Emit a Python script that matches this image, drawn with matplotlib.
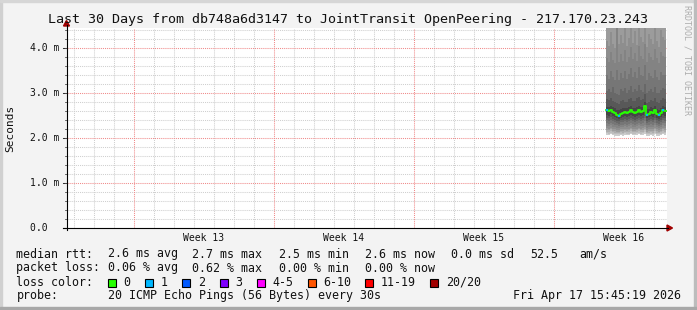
import numpy as np
import pandas as pd
import matplotlib
matplotlib.use("Agg")
import matplotlib.pyplot as plt
import matplotlib.dates as mdates
from matplotlib.patches import Polygon, Rectangle
from matplotlib.transforms import blended_transform_factory

# ---------------- data ----------------
title = "Last 30 Days from db748a6d3147 to JointTransit OpenPeering - 217.170.23.243"
end_time = pd.Timestamp("2026-04-17 15:45:19")
start_time = end_time - pd.Timedelta(days=30)
data_start = pd.Timestamp("2026-04-14 14:30")
n_steps = 30
step_minutes = 144

y_ticks = [0, 1, 2, 3, 4]
y_tick_labels = ["0.0  ", "1.0 m", "2.0 m", "3.0 m", "4.0 m"]

# median rtt (ms) and loss count per step
median = [2.62, 2.60, 2.62, 2.58, 2.56, 2.52, 2.50, 2.54, 2.55, 2.57, 2.56, 2.58, 2.62, 2.57, 2.56,
          2.58, 2.62, 2.58, 2.60, 2.72, 2.52, 2.54, 2.58, 2.55, 2.62, 2.54, 2.51, 2.56, 2.62, 2.60]
loss = [1, 0, 0, 0, 0, 0, 1, 0, 0, 0, 0, 0, 0, 0, 0,
        0, 0, 0, 0, 0, 1, 0, 0, 0, 0, 0, 1, 0, 1, 0]

# smoke bands (ms), outermost (0) to innermost (9)
hi0 = [7.2, 7.0, 7.4, 7.1, 6.9, 7.8, 7.0, 7.3, 7.1, 7.5, 7.0, 7.2, 7.6, 7.1, 7.4,
       7.0, 7.5, 7.2, 7.1, 7.7, 7.0, 7.3, 7.2, 7.0, 7.5, 7.1, 6.9, 7.4, 7.2, 7.1]
hi1 = [6.2, 6.0, 6.4, 6.1, 5.9, 6.8, 6.0, 6.3, 6.1, 6.5, 6.0, 6.2, 6.6, 6.1, 6.4,
       6.0, 6.5, 6.2, 6.1, 6.7, 6.0, 6.3, 6.2, 6.0, 6.5, 6.1, 5.9, 6.4, 6.2, 6.1]
hi2 = [5.4, 5.2, 5.6, 5.3, 5.1, 6.0, 5.2, 5.5, 5.3, 5.7, 5.2, 5.4, 5.8, 5.3, 5.6,
       5.2, 5.7, 5.4, 5.3, 5.9, 5.2, 5.5, 5.4, 5.2, 5.7, 5.3, 5.1, 5.6, 5.4, 5.3]
hi3 = [4.80, 4.70, 4.95, 4.75, 4.66, 5.40, 4.72, 4.90, 4.76, 5.05, 4.68, 4.85, 5.10, 4.74, 4.98,
       4.70, 5.05, 4.86, 4.78, 5.20, 4.67, 4.92, 4.83, 4.72, 5.02, 4.80, 4.66, 4.96, 4.86, 4.82]
hi4 = [4.15, 4.05, 4.35, 4.10, 4.00, 4.80, 4.08, 4.30, 4.12, 4.50, 4.04, 4.22, 4.55, 4.11, 4.38,
       4.06, 4.50, 4.25, 4.14, 4.60, 4.03, 4.32, 4.20, 4.09, 4.48, 4.16, 4.02, 4.40, 4.24, 4.18]
hi5 = [3.78, 3.70, 3.92, 3.74, 3.66, 4.60, 3.70, 3.86, 3.72, 3.95, 3.68, 3.80, 4.02, 3.75, 3.90,
       3.71, 4.05, 3.82, 3.76, 4.10, 3.69, 3.88, 3.79, 3.73, 3.98, 3.77, 3.67, 3.91, 3.83, 3.80]
hi6 = [3.40, 3.32, 3.48, 3.36, 3.30, 3.52, 3.28, 3.44, 3.34, 3.50, 3.31, 3.42, 3.55, 3.35, 3.46,
       3.33, 3.58, 3.40, 3.37, 3.62, 3.30, 3.45, 3.38, 3.34, 3.52, 3.36, 3.29, 3.47, 3.41, 3.39]
hi7 = [3.05, 3.10, 3.02, 3.14, 3.00, 2.98, 2.96, 3.08, 3.04, 3.12, 3.00, 3.06, 3.15, 3.02, 3.08,
       3.04, 3.18, 3.06, 3.03, 3.20, 3.00, 3.05, 3.10, 3.02, 3.14, 3.01, 2.99, 3.06, 3.12, 3.08]
hi8 = [2.86, 2.84, 2.90, 2.82, 2.80, 2.78, 2.76, 2.82, 2.84, 2.81, 2.80, 2.86, 2.90, 2.82, 2.83,
       2.88, 2.92, 2.84, 2.86, 2.98, 2.78, 2.80, 2.85, 2.82, 2.90, 2.80, 2.78, 2.84, 2.88, 2.86]
hi9 = [2.70, 2.69, 2.72, 2.68, 2.66, 2.63, 2.62, 2.65, 2.66, 2.67, 2.66, 2.68, 2.71, 2.67, 2.66,
       2.69, 2.72, 2.68, 2.70, 2.80, 2.64, 2.65, 2.68, 2.66, 2.72, 2.65, 2.63, 2.67, 2.71, 2.70]

lo0 = [2.07, 2.06, 2.08, 2.06, 2.05, 2.04, 2.04, 2.06, 2.05, 2.07, 2.06, 2.06, 2.08, 2.06, 2.06,
       2.07, 2.08, 2.06, 2.07, 2.10, 2.04, 2.05, 2.06, 2.05, 2.08, 2.05, 2.04, 2.06, 2.08, 2.07]
lo1 = [2.11, 2.10, 2.12, 2.10, 2.09, 2.08, 2.08, 2.10, 2.09, 2.11, 2.10, 2.10, 2.12, 2.10, 2.10,
       2.11, 2.12, 2.10, 2.11, 2.14, 2.08, 2.09, 2.10, 2.09, 2.12, 2.09, 2.08, 2.10, 2.12, 2.11]
lo2 = [2.14, 2.13, 2.15, 2.13, 2.12, 2.11, 2.11, 2.13, 2.12, 2.14, 2.13, 2.13, 2.15, 2.13, 2.13,
       2.14, 2.15, 2.13, 2.14, 2.17, 2.11, 2.12, 2.13, 2.12, 2.15, 2.12, 2.11, 2.13, 2.15, 2.14]
lo3 = [2.18, 2.17, 2.19, 2.16, 2.15, 2.14, 2.14, 2.16, 2.16, 2.17, 2.16, 2.17, 2.19, 2.16, 2.16,
       2.17, 2.19, 2.17, 2.18, 2.21, 2.14, 2.15, 2.16, 2.15, 2.19, 2.15, 2.14, 2.16, 2.19, 2.18]
lo4 = [2.22, 2.21, 2.23, 2.20, 2.19, 2.18, 2.18, 2.20, 2.19, 2.21, 2.20, 2.21, 2.23, 2.20, 2.20,
       2.21, 2.23, 2.21, 2.22, 2.25, 2.18, 2.19, 2.20, 2.19, 2.23, 2.19, 2.18, 2.20, 2.23, 2.22]
lo5 = [2.27, 2.26, 2.28, 2.25, 2.24, 2.23, 2.22, 2.25, 2.24, 2.26, 2.25, 2.26, 2.28, 2.25, 2.25,
       2.26, 2.28, 2.26, 2.27, 2.30, 2.23, 2.24, 2.25, 2.24, 2.28, 2.24, 2.22, 2.25, 2.28, 2.27]
lo6 = [2.33, 2.32, 2.34, 2.31, 2.30, 2.28, 2.27, 2.30, 2.30, 2.31, 2.30, 2.32, 2.34, 2.31, 2.30,
       2.32, 2.34, 2.32, 2.33, 2.37, 2.28, 2.29, 2.31, 2.29, 2.34, 2.29, 2.27, 2.30, 2.34, 2.33]
lo7 = [2.39, 2.38, 2.40, 2.37, 2.35, 2.33, 2.32, 2.35, 2.35, 2.37, 2.36, 2.38, 2.40, 2.37, 2.36,
       2.38, 2.40, 2.38, 2.39, 2.44, 2.33, 2.35, 2.37, 2.35, 2.40, 2.34, 2.32, 2.36, 2.40, 2.38]
lo8 = [2.45, 2.44, 2.46, 2.42, 2.40, 2.38, 2.37, 2.40, 2.40, 2.42, 2.41, 2.43, 2.45, 2.42, 2.41,
       2.43, 2.45, 2.43, 2.44, 2.50, 2.38, 2.40, 2.42, 2.40, 2.45, 2.39, 2.37, 2.41, 2.45, 2.44]
lo9 = [2.52, 2.50, 2.53, 2.49, 2.47, 2.44, 2.42, 2.45, 2.46, 2.48, 2.47, 2.49, 2.52, 2.48, 2.47,
       2.49, 2.52, 2.49, 2.51, 2.60, 2.44, 2.46, 2.49, 2.46, 2.52, 2.45, 2.43, 2.47, 2.52, 2.50]

band_hi = [hi0, hi1, hi2, hi3, hi4, hi5, hi6, hi7, hi8, hi9]
band_lo = [lo0, lo1, lo2, lo3, lo4, lo5, lo6, lo7, lo8, lo9]
band_colors = ["#cccccc", "#bdbdbd", "#adadad", "#9c9c9c", "#8e8e8e",
               "#838383", "#767676", "#686868", "#585858", "#464646"]

loss_labels = ["0", "1", "2", "3", "4-5", "6-10", "11-19", "20/20"]
loss_colors = ["#26ff00", "#00b8ff", "#0059ff", "#7e00ff", "#ff00ff", "#ff5500", "#ff0000", "#a10000"]

stats_rtt = ["2.6 ms avg", "2.7 ms max", "2.5 ms min", "2.6 ms now", "0.0 ms sd", "52.5", "am/s"]
stats_loss = ["0.06 % avg", "0.62 % max", "0.00 % min", "0.00 % now"]
probe_text = "20 ICMP Echo Pings (56 Bytes) every 30s"
date_text = "Fri Apr 17 15:45:19 2026"

# ---------------- figure ----------------
W, H = 697, 310
MONO = "DejaVu Sans Mono"
fig = plt.figure(figsize=(W / 100, H / 100), dpi=100, facecolor="#f3f3f3")


def fx(x):
    return x / W


def fy(y):
    return 1 - y / H


# frame shading
fig.patches.append(Rectangle((0, 0), fx(2), 1, transform=fig.transFigure, color="#d0d0d0", zorder=0))
fig.patches.append(Rectangle((0, fy(2)), 1, 2 / H, transform=fig.transFigure, color="#d6d6d6", zorder=0))
fig.patches.append(Rectangle((fx(694), 0), fx(3), 1, transform=fig.transFigure, color="#bcbcbc", zorder=0))
fig.patches.append(Rectangle((0, 0), 1, 3 / H, transform=fig.transFigure, color="#a8a8a8", zorder=0))

ax = fig.add_axes([fx(67), fy(228), fx(600), 200 / H])
ax.set_facecolor("white")
for s in ax.spines.values():
    s.set_visible(False)

x0 = mdates.date2num(start_time)
x1 = mdates.date2num(end_time)
ax.set_xlim(x0, x1)
ymax = 200 / 45
ax.set_ylim(0, ymax)

# grid
days = pd.date_range(start_time.ceil("D"), end_time, freq="D")
weeks = pd.date_range(start_time.ceil("D"), end_time, freq="W-SUN")
for d in days:
    if d not in weeks:
        ax.axvline(mdates.date2num(d), color="#cfcfcf", lw=0.75, ls=(0, (1, 1)), zorder=1)
for v in np.arange(0.2, ymax, 0.2):
    if abs(v - round(v)) > 1e-6:
        ax.axhline(v, color="#cfcfcf", lw=0.75, ls=(0, (1, 1)), zorder=1)
for d in weeks:
    ax.axvline(mdates.date2num(d), color="#f08a8a", lw=0.75, ls=(0, (1, 1)), zorder=1)
for v in y_ticks[1:]:
    ax.axhline(v, color="#f08a8a", lw=0.75, ls=(0, (1, 1)), zorder=1)

# smoke
t = pd.date_range(data_start, periods=n_steps + 1, freq=f"{step_minutes}min")
tn = mdates.date2num(t)
for hi, lo, c in zip(band_hi, band_lo, band_colors):
    ax.fill_between(tn, np.append(lo, lo[-1]), np.append(hi, hi[-1]), step="post",
                    color=c, lw=0, zorder=2)

# median line
med = np.append(median, median[-1])
ax.plot(tn, med, drawstyle="steps-post", color=loss_colors[0], lw=1.3, zorder=3)
for i, l in enumerate(loss):
    if l > 0:
        ax.hlines(median[i], tn[i], tn[i + 1], color=loss_colors[1], lw=1.5, zorder=4)

# x labels
ax.set_xticks([mdates.date2num(w + pd.Timedelta(hours=84)) for w in weeks])
ax.set_xticklabels([f"Week {(w + pd.Timedelta(hours=84)).isocalendar()[1]}" for w in weeks],
                   fontfamily=MONO, fontsize=7, color="#111111")
ax.tick_params(axis="x", length=0, pad=3.6)
ax.set_yticks([])

# y labels and ticks
trans = blended_transform_factory(fig.transFigure, ax.transData)
for v, lab in zip(y_ticks, y_tick_labels):
    fig.text(fx(30), v, lab, transform=trans, ha="left", va="center",
             fontfamily=MONO, fontsize=7, color="#111111")
    fig.lines.append(plt.Line2D([fx(63), fx(67)], [v, v], transform=trans, color="#333333", lw=0.75))
for v in np.arange(0.2, ymax, 0.2):
    fig.lines.append(plt.Line2D([fx(65), fx(67)], [v, v], transform=trans, color="#555555", lw=0.6))

# axes lines & arrows
fig.lines.append(plt.Line2D([fx(66.5), fx(66.5)], [fy(230), fy(25)], transform=fig.transFigure,
                            color="black", lw=0.8))
fig.lines.append(plt.Line2D([fx(63), fx(668)], [fy(228), fy(228)], transform=fig.transFigure,
                            color="black", lw=0.8))
fig.patches.append(Polygon([(fx(63.5), fy(26)), (fx(69.5), fy(26)), (fx(66.5), fy(20.5))],
                           transform=fig.transFigure, color="#a00000", closed=True))
fig.patches.append(Polygon([(fx(667), fy(225)), (fx(667), fy(231)), (fx(672.5), fy(228))],
                           transform=fig.transFigure, color="#a00000", closed=True))

# texts
fig.text(fx(347.5), fy(19.3), title, ha="center", va="center", fontfamily=MONO, fontsize=9.6,
         color="#111111")
fig.text(fx(10), fy(128), "Seconds", rotation=90, ha="center", va="center", fontfamily=MONO,
         fontsize=8, color="#111111")
fig.text(fx(687), fy(60), "RRDTOOL / TOBI OETIKER", rotation=270, ha="center", va="center",
         fontfamily=MONO, fontsize=6, color="#adadad")

LF = 8.4
row_y = [254, 268, 282, 296]


def ltext(x, y, s, **kw):
    fig.text(fx(x), fy(y), s, ha="left", va="center", fontfamily=MONO, fontsize=LF,
             color="#111111", **kw)


ltext(16.4, row_y[0], "median rtt:")
for x, s in zip([107.6, 192.4, 279, 365.3, 451, 530, 579], stats_rtt):
    ltext(x, row_y[0], s)
ltext(16.4, row_y[1], "packet loss:")
for x, s in zip([107.6, 192.4, 279, 365.3], stats_loss):
    ltext(x, row_y[1], s)
ltext(16.4, row_y[2], "loss color:")
box_x = [108, 145.3, 182.2, 219.6, 256.9, 307.6, 365.3, 430.2]
for bx, lab, c in zip(box_x, loss_labels, loss_colors):
    fig.patches.append(Rectangle((fx(bx), fy(286.5)), fx(8), 8 / H, transform=fig.transFigure,
                                 facecolor=c, edgecolor="black", lw=0.8))
    ltext(bx + 15.5, row_y[2], lab)
ltext(16.4, row_y[3], "probe:")
ltext(107.6, row_y[3], probe_text)
fig.text(fx(681), fy(row_y[3]), date_text, ha="right", va="center", fontfamily=MONO, fontsize=LF,
         color="#111111")

fig.savefig("out.png", dpi=100, facecolor=fig.get_facecolor())
